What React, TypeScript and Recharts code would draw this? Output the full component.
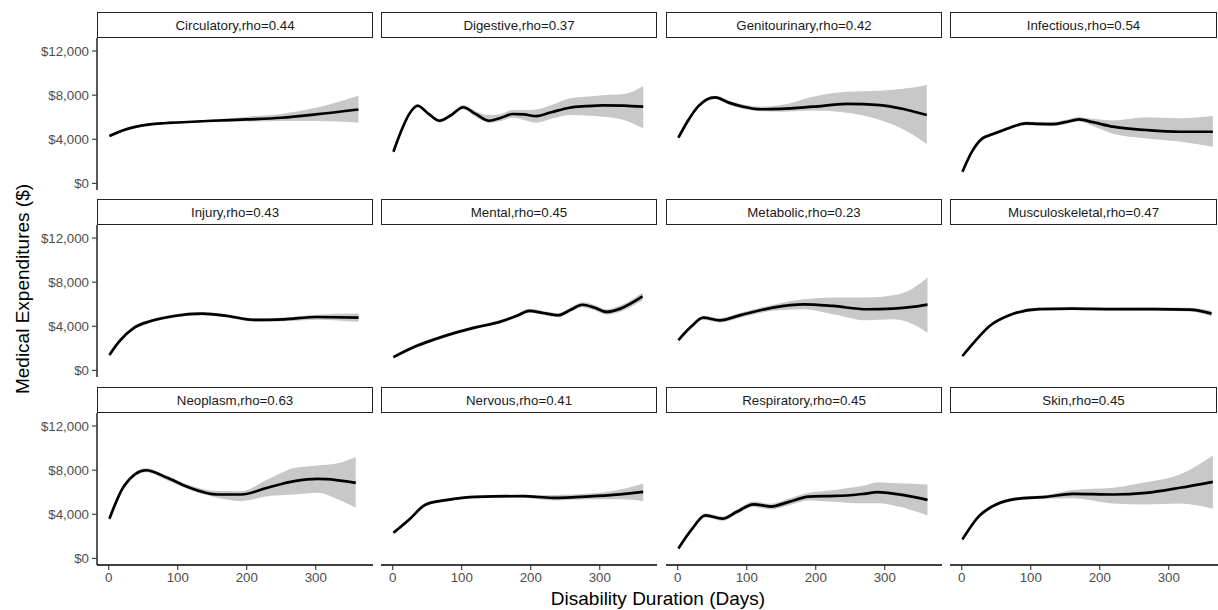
import { ComposedChart, Area, Line, XAxis, YAxis } from 'recharts'

// facet labels
const panelNames = [
  'Circulatory,rho=0.44', 'Digestive,rho=0.37', 'Genitourinary,rho=0.42', 'Infectious,rho=0.54',
  'Injury,rho=0.43', 'Mental,rho=0.45', 'Metabolic,rho=0.23', 'Musculoskeletal,rho=0.47',
  'Neoplasm,rho=0.63', 'Nervous,rho=0.41', 'Respiratory,rho=0.45', 'Skin,rho=0.45',
]

const xTicks = [0, 100, 200, 300]
const yTicks = [0, 4000, 8000, 12000]

// smoothed fits: day, fit, lower / upper CI
const circDays = [1, 20, 40, 60, 80, 100, 150, 200, 250, 300, 362]
const circMean = [4300, 4800, 5150, 5350, 5450, 5520, 5680, 5800, 5950, 6250, 6700]
const circLow = [4150, 4700, 5050, 5270, 5380, 5440, 5580, 5600, 5650, 5650, 5500]
const circHigh = [4450, 4900, 5250, 5430, 5520, 5600, 5800, 6050, 6300, 6850, 7950]

const digDays = [1, 12, 24, 36, 52, 68, 85, 102, 120, 140, 157, 174, 190, 208, 230, 256, 280, 305, 335, 363]
const digMean = [2870, 4700, 6300, 7040, 6300, 5680, 6200, 6900, 6300, 5680, 5950, 6290, 6250, 6100, 6450, 6860, 7000, 7080, 7050, 6950]
const digLow = [2700, 4550, 6150, 6890, 6150, 5530, 6050, 6700, 6050, 5500, 5650, 5950, 5750, 5500, 5850, 6200, 6150, 6050, 5750, 4990]
const digHigh = [3040, 4850, 6450, 7190, 6450, 5830, 6350, 7100, 6550, 6200, 6300, 6650, 6650, 6700, 7100, 7700, 7850, 8000, 8100, 8830]

const genDays = [1, 15, 30, 54, 75, 95, 120, 150, 196, 245, 293, 330, 361]
const genMean = [4140, 5700, 7000, 7800, 7300, 6950, 6720, 6750, 6950, 7200, 7100, 6700, 6200]
const genLow = [3950, 5550, 6850, 7650, 7100, 6750, 6550, 6500, 6600, 6400, 5740, 4800, 3570]
const genHigh = [4330, 5850, 7150, 7950, 7500, 7150, 6950, 7100, 7860, 8300, 8400, 8600, 8920]

const infDays = [1, 15, 30, 42, 54, 70, 93, 112, 132, 150, 170, 190, 219, 267, 316, 364]
const infMean = [1050, 2900, 4080, 4400, 4680, 5050, 5440, 5400, 5380, 5550, 5800, 5550, 5140, 4840, 4680, 4680]
const infLow = [900, 2750, 3930, 4250, 4530, 4900, 5280, 5230, 5180, 5350, 5600, 5200, 4500, 4080, 3800, 3320]
const infHigh = [1200, 3050, 4230, 4550, 4830, 5200, 5600, 5570, 5580, 5750, 6000, 5850, 5700, 5990, 5900, 6100]

const injDays = [1, 15, 37, 61, 95, 135, 172, 211, 254, 302, 362]
const injMean = [1390, 2600, 3870, 4470, 4930, 5140, 4930, 4570, 4630, 4840, 4780]
const injLow = [1240, 2450, 3720, 4320, 4780, 4990, 4780, 4420, 4450, 4600, 4400]
const injHigh = [1540, 2750, 4020, 4620, 5080, 5290, 5080, 4720, 4800, 5050, 5150]

const menDays = [1, 30, 60, 90, 120, 155, 180, 198, 218, 240, 258, 275, 292, 310, 330, 362]
const menMean = [1200, 2100, 2800, 3400, 3900, 4400, 4950, 5400, 5200, 5000, 5500, 5950, 5700, 5300, 5600, 6700]
const menLow = [1050, 1950, 2650, 3250, 3750, 4250, 4780, 5220, 5020, 4820, 5300, 5720, 5450, 5050, 5320, 6350]
const menHigh = [1350, 2250, 2950, 3550, 4050, 4550, 5120, 5580, 5380, 5180, 5700, 6180, 5950, 5550, 5880, 7050]

const metDays = [1, 20, 37, 61, 90, 138, 182, 225, 274, 312, 340, 362]
const metMean = [2750, 4000, 4780, 4540, 4990, 5690, 5990, 5840, 5540, 5600, 5750, 5960]
const metLow = [2600, 3850, 4600, 4350, 4780, 5400, 5540, 5100, 4550, 4630, 4200, 3420]
const metHigh = [2900, 4150, 4950, 4730, 5200, 5950, 6450, 6600, 6600, 6800, 7400, 8410]

const musDays = [1, 20, 40, 69, 112, 160, 220, 280, 330, 362]
const musMean = [1300, 2700, 4000, 5000, 5550, 5600, 5550, 5550, 5500, 5150]
const musLow = [1180, 2580, 3880, 4880, 5430, 5480, 5420, 5400, 5330, 4900]
const musHigh = [1420, 2820, 4120, 5120, 5670, 5720, 5680, 5700, 5670, 5400]

const neoDays = [1, 22, 54, 85, 114, 158, 192, 230, 269, 303, 330, 358]
const neoMean = [3590, 6540, 7990, 7300, 6490, 5790, 5790, 6400, 7000, 7200, 7100, 6850]
const neoLow = [3400, 6350, 7800, 7050, 6300, 5500, 5190, 5640, 5790, 5940, 5400, 4590]
const neoHigh = [3780, 6730, 8180, 7500, 6700, 6100, 6090, 7150, 8200, 8420, 8600, 9200]

const nerDays = [1, 24, 48, 77, 121, 189, 232, 290, 330, 363]
const nerMean = [2320, 3530, 4890, 5280, 5580, 5640, 5490, 5640, 5800, 6030]
const nerLow = [2200, 3400, 4750, 5150, 5450, 5500, 5250, 5350, 5350, 5190]
const nerHigh = [2450, 3650, 5030, 5400, 5700, 5780, 5750, 5900, 6250, 6790]

const resDays = [1, 20, 40, 65, 85, 110, 135, 160, 190, 220, 245, 270, 290, 320, 362]
const resMean = [900, 2600, 3900, 3600, 4200, 4900, 4700, 5100, 5600, 5650, 5700, 5850, 6000, 5800, 5300]
const resLow = [750, 2450, 3700, 3400, 4000, 4650, 4450, 4800, 5250, 5150, 5050, 5000, 5000, 4700, 3900]
const resHigh = [1050, 2750, 4100, 3800, 4400, 5150, 4950, 5400, 5950, 6150, 6350, 6600, 6900, 6800, 6700]

const skinDays = [1, 25, 50, 79, 122, 161, 219, 267, 316, 364]
const skinMean = [1720, 3830, 4890, 5400, 5580, 5850, 5790, 5940, 6400, 6940]
const skinLow = [1570, 3680, 4740, 5250, 5400, 5450, 4980, 4890, 4980, 4500]
const skinHigh = [1870, 3980, 5040, 5550, 5750, 6200, 6400, 6900, 7600, 9320]

const series = [
  [circDays, circMean, circLow, circHigh],
  [digDays, digMean, digLow, digHigh],
  [genDays, genMean, genLow, genHigh],
  [infDays, infMean, infLow, infHigh],
  [injDays, injMean, injLow, injHigh],
  [menDays, menMean, menLow, menHigh],
  [metDays, metMean, metLow, metHigh],
  [musDays, musMean, musLow, musHigh],
  [neoDays, neoMean, neoLow, neoHigh],
  [nerDays, nerMean, nerLow, nerHigh],
  [resDays, resMean, resLow, resHigh],
  [skinDays, skinMean, skinLow, skinHigh],
]

const colX = [97, 381, 666, 950]
const rowY = [12, 199, 387]
const panelW = 276
const stripH = 26
const plotH = 152
const yAxisW = 60
const xAxisH = 30

const font = '"Liberation Sans", Arial, sans-serif'
const money = (v: number) => `$${v.toLocaleString('en-US')}`

function Panel({ idx }: { idx: number }) {
  const col = idx % 4
  const row = Math.floor(idx / 4)
  const [days, mean, low, high] = series[idx]
  const data = days.map((d, i) => ({ day: d, fit: mean[i], band: [low[i], high[i]] }))
  const showY = col === 0
  const showX = row === 2
  const left = colX[col] - (showY ? yAxisW : 0)
  const top = rowY[row] + stripH
  const stripW = col === 3 ? 1217 - colX[col] : panelW

  return (
    <>
      <div
        style={{
          position: 'absolute',
          left: colX[col],
          top: rowY[row],
          width: stripW,
          height: stripH,
          boxSizing: 'border-box',
          border: '1.4px solid #222',
          background: '#fff',
          display: 'flex',
          alignItems: 'center',
          justifyContent: 'center',
          fontSize: 13.3,
          color: '#1a1a1a',
        }}
      >
        {panelNames[idx]}
      </div>
      <div style={{ position: 'absolute', left, top, overflow: 'visible' }}>
        <ComposedChart
          width={panelW + (showY ? yAxisW : 0)}
          height={plotH + (showX ? xAxisH : 0)}
          data={data}
          margin={{ top: 0, right: 0, bottom: 0, left: 0 }}
          style={{ overflow: 'visible' }}
        >
          <XAxis
            dataKey="day"
            type="number"
            domain={[-17, 383]}
            ticks={xTicks}
            interval={0}
            hide={!showX}
            height={xAxisH}
            tick={{ fill: '#4d4d4d', fontSize: 13.3, fontFamily: font }}
            tickLine={{ stroke: '#333', strokeWidth: 1.1 }}
            axisLine={{ stroke: '#000', strokeWidth: 1.3 }}
            tickSize={5}
            tickMargin={3}
          />
          <YAxis
            type="number"
            domain={[-600, 13180]}
            ticks={yTicks}
            interval={0}
            hide={!showY}
            width={yAxisW}
            tickFormatter={money}
            tick={{ fill: '#4d4d4d', fontSize: 13.3, fontFamily: font }}
            tickLine={{ stroke: '#333', strokeWidth: 1.1 }}
            axisLine={{ stroke: '#000', strokeWidth: 1.3 }}
            tickSize={5}
            tickMargin={3}
          />
          <Area
            type="monotone"
            dataKey="band"
            stroke="none"
            fill="#c8c8c8"
            fillOpacity={1}
            isAnimationActive={false}
            activeDot={false}
          />
          <Line
            type="monotone"
            dataKey="fit"
            stroke="#000"
            strokeWidth={2.7}
            dot={false}
            activeDot={false}
            isAnimationActive={false}
          />
        </ComposedChart>
      </div>
    </>
  )
}

export default function App() {
  return (
    <div
      style={{
        position: 'absolute',
        left: 0,
        top: 0,
        width: 1218,
        height: 610,
        overflow: 'hidden',
        background: '#fff',
        fontFamily: font,
      }}
    >
      {panelNames.map((_, i) => (
        <Panel key={i} idx={i} />
      ))}
      <svg width={1218} height={610} style={{ position: 'absolute', left: 0, top: 0, pointerEvents: 'none' }}>
        <text
          x={22}
          y={289}
          transform="rotate(-90, 22, 289)"
          textAnchor="middle"
          dominantBaseline="central"
          fontSize={19}
          fontFamily={font}
          fill="#000"
        >
          Medical Expenditures ($)
        </text>
        <text x={658} y={598} textAnchor="middle" dominantBaseline="central" fontSize={19} fontFamily={font} fill="#000">
          Disability Duration (Days)
        </text>
      </svg>
    </div>
  )
}
